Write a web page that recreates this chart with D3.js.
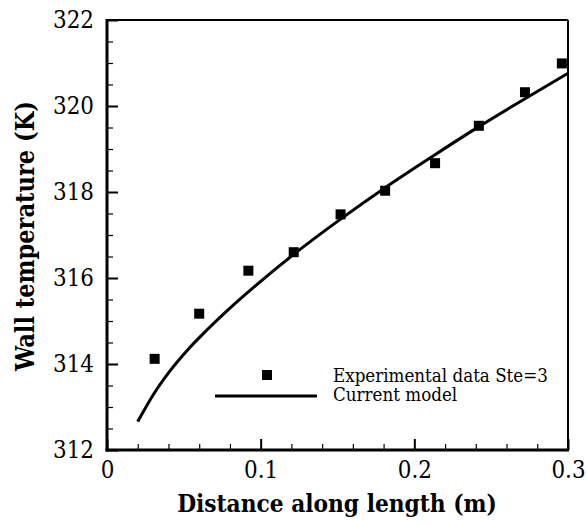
<!DOCTYPE html>
<html>
<head>
<meta charset="utf-8">
<script src="https://cdn.jsdelivr.net/npm/d3@7"></script>
<style>
  html, body { margin: 0; padding: 0; background: #fff; }
  svg { display: block; }
  svg text { fill: #000; font-family: "DejaVu Serif", serif; font-stretch: condensed; }
</style>
</head>
<body>
<svg id="chart" width="586" height="525"></svg>
<script>
// ---- data ----
const expX = [0.031, 0.060, 0.092, 0.1215, 0.152, 0.181, 0.2135, 0.242, 0.272, 0.296];
const expY = [314.12, 315.17, 316.17, 316.60, 317.48, 318.03, 318.67, 319.54, 320.32, 320.99];

const modelX = [0.020, 0.030, 0.041, 0.052, 0.065, 0.080, 0.095, 0.1215, 0.152, 0.181, 0.211, 0.242, 0.272, 0.300];
const modelY = [312.66, 313.28, 313.84, 314.31, 314.79, 315.30, 315.77, 316.55, 317.37, 318.10, 318.81, 319.52, 320.17, 320.76];

const xTicks = [0, 0.1, 0.2, 0.3];
const xTickLabels = ["0", "0.1", "0.2", "0.3"];
const yTicks = [312, 314, 316, 318, 320, 322];
const yTickLabels = ["312", "314", "316", "318", "320", "322"];

const xTitle = "Distance along length (m)";
const yTitle = "Wall temperature (K)";
const legendLabels = ["Experimental data Ste=3", "Current model"];

// ---- layout ----
const L = 107, R = 568, T = 20, B = 450;
const svg = d3.select("#chart");

const x = d3.scaleLinear().domain([0, 0.3]).range([L, R]);
const y = d3.scaleLinear().domain([312, 322]).range([B, T]);

const xMinor = d3.range(0, 0.3001, 0.02).filter(v => !xTicks.some(t => Math.abs(t - v) < 1e-9));
const yMinor = d3.range(312, 322.001, 0.5).filter(v => !yTicks.some(t => Math.abs(t - v) < 1e-9));

// fit a text's font size so its rendered width matches a target width
function fitSize(sel, target, base) {
  sel.attr("font-size", base);
  const w = sel.node().getComputedTextLength();
  const s = base * target / w;
  sel.attr("font-size", s);
  return s;
}

const probe = svg.append("text").text(yTickLabels[5]);
const tickSize = fitSize(probe, 41, 26);
probe.remove();

// x axis
const gx = svg.append("g").attr("transform", `translate(0,${B})`)
  .call(d3.axisBottom(x).tickValues(xTicks).tickSize(-11).tickPadding(11)
    .tickFormat((d, i) => xTickLabels[i]));
gx.attr("font-family", null).attr("font-size", null);
gx.select(".domain").remove();
gx.selectAll(".tick line").attr("stroke", "#000").attr("stroke-width", 2);
gx.selectAll(".tick text").attr("font-size", tickSize);

const gxm = svg.append("g").attr("transform", `translate(0,${B})`)
  .call(d3.axisBottom(x).tickValues(xMinor).tickSize(-6).tickFormat(""));
gxm.select(".domain").remove();
gxm.selectAll(".tick line").attr("stroke", "#000").attr("stroke-width", 1.2);

// y axis
const gy = svg.append("g").attr("transform", `translate(${L},0)`)
  .call(d3.axisLeft(y).tickValues(yTicks).tickSize(-11).tickPadding(13)
    .tickFormat((d, i) => yTickLabels[i]));
gy.attr("font-family", null).attr("font-size", null);
gy.select(".domain").remove();
gy.selectAll(".tick line").attr("stroke", "#000").attr("stroke-width", 2);
gy.selectAll(".tick text").attr("font-size", tickSize);

const gym = svg.append("g").attr("transform", `translate(${L},0)`)
  .call(d3.axisLeft(y).tickValues(yMinor).tickSize(-6).tickFormat(""));
gym.select(".domain").remove();
gym.selectAll(".tick line").attr("stroke", "#000").attr("stroke-width", 1.2);

// frame
svg.append("line").attr("x1", L).attr("x2", R).attr("y1", T).attr("y2", T).attr("stroke", "#000").attr("stroke-width", 2);
svg.append("line").attr("x1", R).attr("x2", R).attr("y1", T).attr("y2", B).attr("stroke", "#000").attr("stroke-width", 2);
svg.append("line").attr("x1", L).attr("x2", L).attr("y1", T - 1).attr("y2", B + 1.5).attr("stroke", "#000").attr("stroke-width", 3);
svg.append("line").attr("x1", L - 1.5).attr("x2", R + 1).attr("y1", B).attr("y2", B).attr("stroke", "#000").attr("stroke-width", 3);

// model curve
const modelData = modelX.map((v, i) => [v, modelY[i]]);
svg.append("path").datum(modelData)
  .attr("fill", "none").attr("stroke", "#000").attr("stroke-width", 3)
  .attr("d", d3.line().x(d => x(d[0])).y(d => y(d[1])).curve(d3.curveMonotoneX));

// experimental squares
const sq = 10;
svg.append("g").selectAll("rect").data(expX.map((v, i) => [v, expY[i]])).join("rect")
  .attr("x", d => x(d[0]) - sq / 2).attr("y", d => y(d[1]) - sq / 2)
  .attr("width", sq).attr("height", sq).attr("fill", "#000");

// legend
svg.append("rect").attr("x", 267 - 5).attr("y", 375 - 5).attr("width", 10).attr("height", 10).attr("fill", "#000");
svg.append("line").attr("x1", 215).attr("x2", 317).attr("y1", 396).attr("y2", 396).attr("stroke", "#000").attr("stroke-width", 3);
const lg1 = svg.append("text").attr("x", 333).attr("y", 382).text(legendLabels[0]);
const lgSize = fitSize(lg1, 215, 20);
svg.append("text").attr("x", 333).attr("y", 401).attr("font-size", lgSize).text(legendLabels[1]);

// axis titles
const xt = svg.append("text").attr("x", 337).attr("y", 512).attr("text-anchor", "middle")
  .attr("font-weight", "bold").text(xTitle);
fitSize(xt, 320, 24);
const yt = svg.append("text").attr("transform", "translate(34,236) rotate(-90)").attr("text-anchor", "middle")
  .attr("font-weight", "bold").text(yTitle);
fitSize(yt, 270, 24);
</script>
</body>
</html>
